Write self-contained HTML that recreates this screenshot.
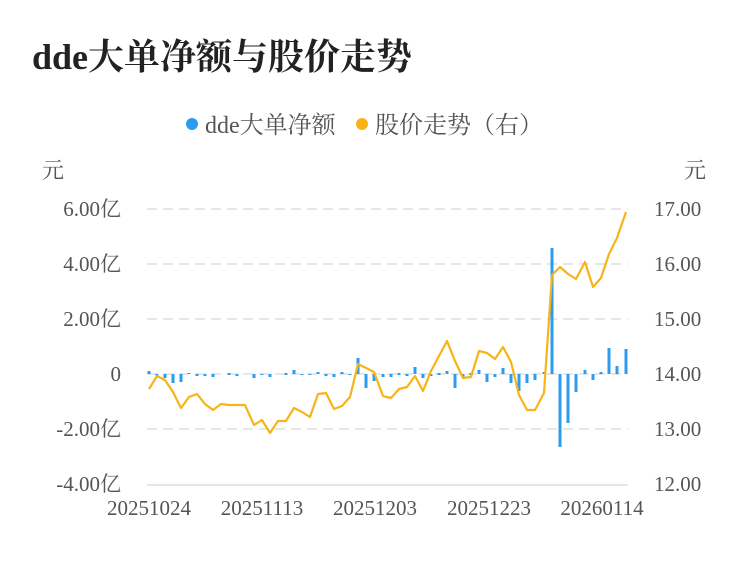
<!DOCTYPE html>
<html><head><meta charset="utf-8"><style>
body{margin:0;background:#fff;width:750px;height:558px;overflow:hidden;font-family:"Liberation Serif","Noto Serif CJK SC",serif;}
</style></head><body>
<svg width="750" height="558" xmlns="http://www.w3.org/2000/svg" font-family="'Liberation Serif','Noto Serif CJK SC',serif">
<text x="32" y="69" font-size="36" font-weight="bold" fill="#222">dde大单净额与股价走势</text>
<circle cx="192" cy="124" r="6" fill="#2b9cf0"/>
<text x="205" y="133" font-size="24" fill="#555">dde大单净额</text>
<circle cx="362" cy="124" r="6" fill="#f8b416"/>
<text x="375" y="133" font-size="24" fill="#555">股价走势（右）</text>
<text x="42" y="178" font-size="22" fill="#555">元</text>
<text x="684" y="178" font-size="22" fill="#555">元</text>
<g stroke="#e6e6e6" stroke-width="2" stroke-dasharray="10,6">
<line x1="147" y1="209" x2="628" y2="209"/><line x1="147" y1="264" x2="628" y2="264"/>
<line x1="147" y1="319" x2="628" y2="319"/><line x1="147" y1="374" x2="628" y2="374"/>
<line x1="147" y1="429" x2="628" y2="429"/>
</g>
<line x1="147" y1="485" x2="628" y2="485" stroke="#e6e6e6" stroke-width="2"/>
<g font-size="21" fill="#555" text-anchor="end">
<text x="121" y="216">6.00亿</text><text x="121" y="271">4.00亿</text><text x="121" y="326">2.00亿</text>
<text x="121" y="381">0</text><text x="121" y="436">-2.00亿</text><text x="121" y="491">-4.00亿</text>
</g>
<g font-size="21" fill="#555">
<text x="654" y="216">17.00</text><text x="654" y="271">16.00</text><text x="654" y="326">15.00</text>
<text x="654" y="381">14.00</text><text x="654" y="436">13.00</text><text x="654" y="491">12.00</text>
</g>
<g font-size="21" fill="#555" text-anchor="middle">
<text x="149" y="515">20251024</text><text x="262" y="515">20251113</text><text x="375" y="515">20251203</text>
<text x="489" y="515">20251223</text><text x="602" y="515">20260114</text>
</g>
<g fill="#2b9cf0">
<rect x="147.5" y="371" width="3" height="3"/><rect x="155.5" y="374" width="3" height="3"/>
<rect x="163.5" y="374" width="3" height="4"/><rect x="171.5" y="374" width="3" height="9"/>
<rect x="179.5" y="374" width="3" height="8"/><rect x="187.5" y="373" width="3" height="1"/>
<rect x="195.5" y="374" width="3" height="2"/><rect x="203.5" y="374" width="3" height="2"/>
<rect x="211.5" y="374" width="3" height="3"/><rect x="227.5" y="373" width="3" height="2"/>
<rect x="235.5" y="374" width="3" height="2"/><rect x="252.5" y="374" width="3" height="4"/>
<rect x="260.5" y="374" width="3" height="1"/><rect x="268.5" y="374" width="3" height="3"/>
<rect x="284.5" y="373" width="3" height="2"/><rect x="292.5" y="370" width="3" height="4"/>
<rect x="300.5" y="374" width="3" height="1"/><rect x="308.5" y="374" width="3" height="1"/>
<rect x="316.5" y="372" width="3" height="2"/><rect x="324.5" y="374" width="3" height="2"/>
<rect x="332.5" y="374" width="3" height="3"/><rect x="340.5" y="372" width="3" height="2"/>
<rect x="348.5" y="374" width="3" height="1"/><rect x="356.5" y="358" width="3" height="16"/>
<rect x="364.5" y="374" width="3" height="14"/><rect x="372.5" y="374" width="3" height="7"/>
<rect x="381.5" y="374" width="3" height="3"/><rect x="389.5" y="374" width="3" height="3"/>
<rect x="397.5" y="373" width="3" height="2"/><rect x="405.5" y="374" width="3" height="2"/>
<rect x="413.5" y="367" width="3" height="7"/><rect x="421.5" y="374" width="3" height="4"/>
<rect x="429.5" y="374" width="3" height="2"/><rect x="437.5" y="373" width="3" height="2"/>
<rect x="445.5" y="371" width="3" height="3"/><rect x="453.5" y="374" width="3" height="14"/>
<rect x="461.5" y="374" width="3" height="3"/><rect x="469.5" y="373" width="3" height="2"/>
<rect x="477.5" y="370" width="3" height="4"/><rect x="485.5" y="374" width="3" height="8"/>
<rect x="493.5" y="374" width="3" height="3"/><rect x="501.5" y="368" width="3" height="6"/>
<rect x="509.5" y="374" width="3" height="9"/><rect x="517.5" y="374" width="3" height="17"/>
<rect x="525.5" y="374" width="3" height="9"/><rect x="533.5" y="374" width="3" height="6"/>
<rect x="542.5" y="372" width="3" height="2"/><rect x="550.5" y="248" width="3" height="126"/>
<rect x="558.5" y="374" width="3" height="73"/><rect x="566.5" y="374" width="3" height="49"/>
<rect x="574.5" y="374" width="3" height="18"/><rect x="583.5" y="370" width="3" height="4"/>
<rect x="591.5" y="374" width="3" height="6"/><rect x="599.5" y="372" width="3" height="2"/>
<rect x="607.5" y="348" width="3" height="26"/><rect x="615.5" y="366" width="3" height="8"/>
<rect x="624.5" y="349" width="3" height="25"/>
</g>
<polyline fill="none" stroke="#f8b416" stroke-width="2.2" stroke-linejoin="round" points="149,389 157,376 165,380 173,392 181,408 189,397 197,394 205,404 213,410 221,404 229,405 237,405 245,405 254,425 262,420 270,433 278,421 286,421 294,408 302,412 310,417 318,394 326,393 334,409 342,406 350,397 358,364 366,368 374,372 383,396 391,398 399,389 407,387 415,376 423,391 431,371 439,356 447,341 455,361 463,378 471,377 479,351 487,353 495,359 503,347 511,362 519,395 527,410 535,410 544,393 552,275 560,267 568,274 576,279 585,262 593,287 601,278 609,254 617,238 626,212"/>
</svg>
</body></html>
